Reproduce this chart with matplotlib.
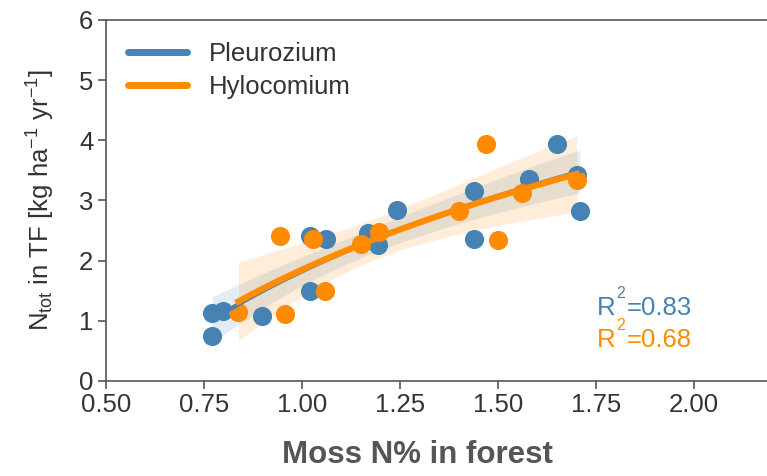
import numpy as np
import matplotlib
matplotlib.use("Agg")
import matplotlib.pyplot as plt
from matplotlib.transforms import offset_copy

plt.rcParams['font.family'] = ['Liberation Sans', 'DejaVu Sans']
plt.rcParams['mathtext.fontset'] = 'custom'
plt.rcParams['mathtext.rm'] = 'Liberation Sans'
plt.rcParams['mathtext.it'] = 'Liberation Sans:italic'
plt.rcParams['mathtext.bf'] = 'Liberation Sans:bold'

# Moss N% (x) and total N in throughfall (y) per plot
pleuro_x = [0.771, 0.798, 0.771, 0.898, 1.020, 1.060, 1.020, 1.169, 1.193,
            1.242, 1.440, 1.440, 1.580, 1.650, 1.709, 1.702]
pleuro_y = [1.135, 1.17, 0.75, 1.08, 2.415, 2.355, 1.50, 2.465, 2.26,
            2.85, 3.16, 2.355, 3.36, 3.94, 2.83, 3.42]
hylo_x = [0.838, 0.944, 0.957, 1.029, 1.059, 1.150, 1.197, 1.400, 1.469,
          1.499, 1.560, 1.701]
hylo_y = [1.15, 2.41, 1.11, 2.36, 1.50, 2.28, 2.48, 2.83, 3.94,
          2.34, 3.13, 3.34]
r2_labels = ["0.83", "0.68"]
series_names = ["Pleurozium", "Hylocomium"]

BLUE = "#4682b4"
ORANGE = "#ff8c00"
GREY = "#555555"
TXT = "#333333"
FS = 18.5


def log_fit(x, y, t_crit):
    """Fit y = a + b*ln(x); return grid, fitted curve and 95% band."""
    x = np.asarray(x)
    y = np.asarray(y)
    lx = np.log(x)
    n = len(x)
    b, a = np.polyfit(lx, y, 1)
    resid = y - (a + b * lx)
    s = np.sqrt(np.sum(resid ** 2) / (n - 2))
    grid = np.linspace(x.min(), x.max(), 100)
    lg = np.log(grid)
    fit = a + b * lg
    se = s * np.sqrt(1.0 / n + (lg - lx.mean()) ** 2 / np.sum((lx - lx.mean()) ** 2))
    return grid, fit, fit - t_crit * se, fit + t_crit * se


fig = plt.figure(figsize=(7.67, 4.76), dpi=100)
ax = fig.add_axes([0.1382, 0.1996, 0.8688, 0.7584])

ax.scatter(pleuro_x, pleuro_y, s=190, color=BLUE, linewidths=0, zorder=3)
ax.scatter(hylo_x, hylo_y, s=190, color=ORANGE, linewidths=0, zorder=3)

gx, gf, glo, ghi = log_fit(pleuro_x, pleuro_y, 2.145)
ax.fill_between(gx, glo, ghi, color=BLUE, alpha=0.15, linewidth=0, zorder=2)
ox, of, olo, ohi = log_fit(hylo_x, hylo_y, 2.228)
ax.fill_between(ox, olo, ohi, color=ORANGE, alpha=0.15, linewidth=0, zorder=2)

ax.plot(gx, gf, color=BLUE, lw=3, zorder=4)
ax.plot(ox, of, color=ORANGE, lw=4.5, zorder=5)

# legend handles
h1, = ax.plot([], [], color=BLUE, lw=5, solid_capstyle='round', label=series_names[0])
h2, = ax.plot([], [], color=ORANGE, lw=5, solid_capstyle='round', label=series_names[1])
leg = ax.legend(handles=[h1, h2], loc='upper left', bbox_to_anchor=(0.0, 1.0),
                frameon=False, fontsize=FS, handlelength=2.3, handletextpad=0.85,
                borderaxespad=0.45, labelspacing=0.35)
for t in leg.get_texts():
    t.set_color(TXT)

ax.set_xlim(0.5, 2.2)
ax.set_ylim(0, 6)
ax.set_xticks([0.5, 0.75, 1.0, 1.25, 1.5, 1.75, 2.0])
ax.set_xticklabels(["0.50", "0.75", "1.00", "1.25", "1.50", "1.75", "2.00"])
ax.set_yticks([0, 1, 2, 3, 4, 5, 6])

for side in ['left', 'bottom', 'top']:
    ax.spines[side].set_color(GREY)
    ax.spines[side].set_linewidth(1.2)
ax.spines['right'].set_visible(False)
ax.tick_params(axis='both', direction='out', length=6, width=1.2, color=GREY,
               labelsize=FS, labelcolor=TXT, pad=3)

ax.set_ylabel(r"N$_{\mathrm{tot}}$ in TF [kg ha$^{-1}$ yr$^{-1}$]",
              fontsize=FS, color=TXT)
ax.yaxis.set_label_coords(-0.073, 0.5)
ax.set_xlabel("Moss N% in forest", fontsize=22.5, fontweight='bold', color=GREY)
ax.xaxis.set_label_coords(0.467, -0.163)

# R² annotations: "R", raised "2", then the value
fig.canvas.draw()
renderer = fig.canvas.get_renderer()
for yv, col, lab in [(1.21, BLUE, r2_labels[0]), (0.68, ORANGE, r2_labels[1])]:
    t_r = ax.text(1.752, yv, "R", color=col, fontsize=FS, ha='left', va='center')
    w = t_r.get_window_extent(renderer).width * 72.0 / fig.dpi
    ax.text(1.752, yv, "2", color=col, fontsize=FS * 0.62, ha='left',
            va='center',
            transform=offset_copy(ax.transData, fig=fig, x=w + 0.5, y=10.5,
                                  units='points'))
    ax.text(1.752, yv, "=" + lab, color=col, fontsize=FS, ha='left',
            va='center',
            transform=offset_copy(ax.transData, fig=fig, x=w + 8.5, y=0,
                                  units='points'))

fig.savefig("out.png", dpi=100)
